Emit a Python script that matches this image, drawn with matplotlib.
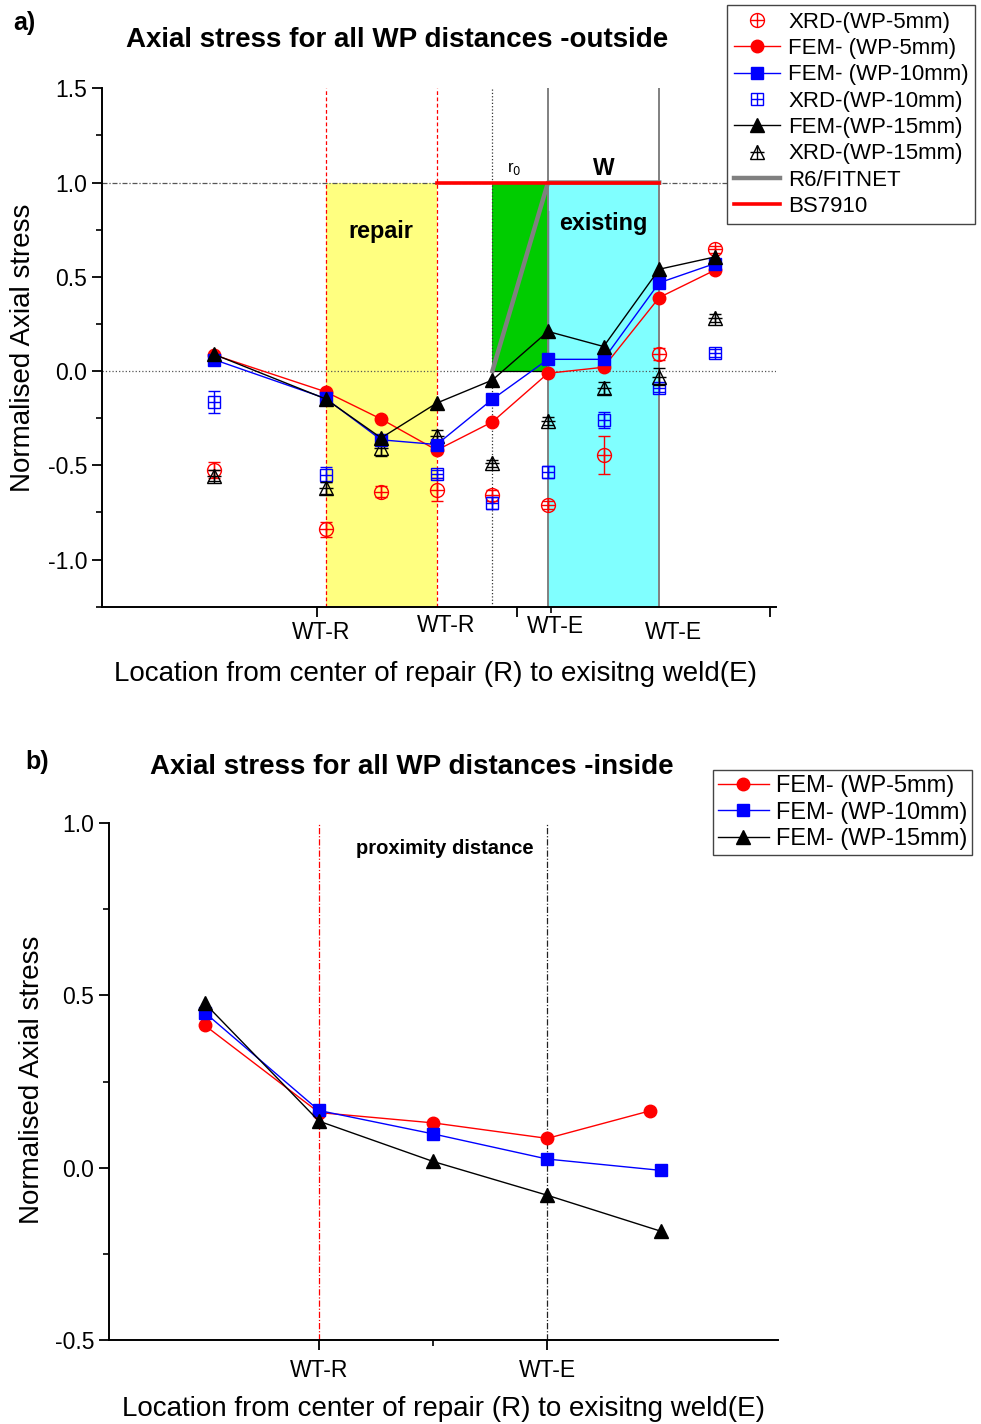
import matplotlib
matplotlib.use("Agg")
import matplotlib.pyplot as plt
from matplotlib.legend_handler import HandlerTuple
from matplotlib.ticker import MultipleLocator, FixedLocator, NullFormatter, FormatStrFormatter
import matplotlib.transforms as mtransforms

plt.rcParams["font.family"] = ["Liberation Sans", "DejaVu Sans"]

# ---- panel a) outside : positions along the pipe ----
fem_x = [2, 4, 5, 6, 7, 8, 9, 10, 11]
fem5_out = [0.085, -0.11, -0.255, -0.42, -0.27, -0.012, 0.02, 0.39, 0.535]
fem10_out = [0.06, -0.145, -0.365, -0.39, -0.15, 0.062, 0.062, 0.468, 0.57]
fem15_out = [0.088, -0.148, -0.355, -0.17, -0.048, 0.21, 0.13, 0.54, 0.605]

xrd5_x = [2, 4, 5, 6, 7, 8, 9, 10, 11]
xrd5 = [-0.525, -0.84, -0.64, -0.63, -0.66, -0.71, -0.445, 0.09, 0.645]
xrd5_err = [0.04, 0.04, 0.03, 0.06, 0.03, 0.02, 0.1, 0.03, 0.02]

xrd10_x = [2, 4, 6, 7, 8, 9, 10, 11]
xrd10 = [-0.165, -0.55, -0.545, -0.70, -0.535, -0.26, -0.09, 0.095]
xrd10_err = [0.06, 0.04, 0.02, 0.03, 0.03, 0.04, 0.02, 0.02]

xrd15_x = [2, 4, 5, 6, 7, 8, 9, 10, 11]
xrd15 = [-0.555, -0.62, -0.41, -0.345, -0.49, -0.265, -0.09, -0.03, 0.28]
xrd15_err = [0.03, 0.03, 0.04, 0.03, 0.02, 0.02, 0.03, 0.045, 0.02]

# R6/FITNET and BS7910 limit lines
r6_x = [7, 8, 10]
r6_y = [0.0, 1.0, 1.0]
bs_x = [6, 10]
bs_y = [1.0, 1.0]

# zones
repair_zone = (4, 6)
r0_zone = (7, 8)
existing_zone = (8, 10)

top_tick_labels = ["WT-R", "WT-R", "WT-E", "WT-E"]
top_label_x = [3.92, 6.17, 8.13, 10.25]

# ---- panel b) inside ----
in_x = [1, 2, 3, 4, 5]
in5_x = [1, 2, 3, 4, 4.9]
fem5_in = [0.413, 0.16, 0.13, 0.085, 0.165]
fem10_in = [0.45, 0.166, 0.098, 0.025, -0.008]
fem15_in = [0.477, 0.135, 0.018, -0.08, -0.185]

RED = "#ff0000"
BLUE = "#0000ff"
BLACK = "#000000"

fig = plt.figure(figsize=(9.81, 14.24), dpi=100)


def style_axes(ax):
    for s in ["top", "right"]:
        ax.spines[s].set_visible(False)
    for s in ["left", "bottom"]:
        ax.spines[s].set_linewidth(1.4)
    ax.tick_params(which="major", length=7, width=1.3, labelsize=16.5, direction="out")
    ax.tick_params(which="minor", length=4, width=1.2, direction="out")


# ======================= panel a =======================
ax = fig.add_axes([0.104, 0.574, 0.687, 0.364])
ax.set_xlim(-0.02, 12.1)
ax.set_ylim(-1.25, 1.5)
style_axes(ax)

ax.fill_between(repair_zone, -1.25, 1.0, color="#ffff80", zorder=0, lw=0)
ax.fill_between(existing_zone, -1.25, 1.0, color="#80ffff", zorder=0, lw=0)
ax.fill_between(r0_zone, 0.0, 1.0, color="#00cc00", zorder=0.5, lw=0)
ax.plot([r0_zone[0], r0_zone[1], r0_zone[1]], [0, 0, 0.85], color="k", lw=0.9, zorder=0.6)

ax.axhline(1.0, color="#555555", lw=0.9, ls=(0, (4, 1.5, 1, 1.5)), zorder=0.3)
ax.axhline(0.0, color="#555555", lw=0.9, ls=":", zorder=0.3)
for xv in repair_zone:
    ax.axvline(xv, color=RED, lw=0.9, ls=(0, (3, 2)), zorder=0.7)
ax.axvline(r0_zone[0], color="#333333", lw=0.9, ls=":", zorder=0.7)
for xv in existing_zone:
    ax.axvline(xv, color="#808080", lw=1.4, zorder=0.7)

r6_line, = ax.plot(r6_x, r6_y, color="#808080", lw=3.2, zorder=1)
bs_line, = ax.plot(bs_x, bs_y, color=RED, lw=2.6, zorder=1.1)

ax.text(5, 0.74, "repair", fontsize=16.8, fontweight="bold", ha="center", va="center")
ax.text(9, 0.78, "existing", fontsize=16.8, fontweight="bold", ha="center", va="center")
ax.text(9, 1.075, "W", fontsize=16.5, fontweight="bold", ha="center", va="center")
ax.text(7.4, 1.075, "r$_0$", fontsize=12, ha="center", va="center")


def xrd_series(ax, x, y, err, color, marker, ms):
    ax.errorbar(x, y, yerr=err, fmt="none", ecolor=color, elinewidth=1.0,
                capsize=4, capthick=1.0, zorder=2)
    a, = ax.plot(x, y, ls="none", marker=marker, ms=ms, mfc="none", mec=color, mew=1.0, zorder=2)
    b, = ax.plot(x, y, ls="none", marker="+", ms=ms, mec=color, mew=1.0, zorder=2)
    return (a, b)


h_xrd5 = xrd_series(ax, xrd5_x, xrd5, xrd5_err, RED, "o", 10)
h_xrd10 = xrd_series(ax, xrd10_x, xrd10, xrd10_err, BLUE, "s", 9)
h_xrd15 = xrd_series(ax, xrd15_x, xrd15, xrd15_err, BLACK, "^", 10)

h_f5, = ax.plot(fem_x, fem5_out, color=RED, lw=1.0, marker="o", ms=9, mec=RED, zorder=3)
h_f10, = ax.plot(fem_x, fem10_out, color=BLUE, lw=1.0, marker="s", ms=8.5, mec=BLUE, zorder=3)
h_f15, = ax.plot(fem_x, fem15_out, color=BLACK, lw=1.0, marker="^", ms=9.5, mec=BLACK, zorder=3)

ax.yaxis.set_major_locator(MultipleLocator(0.5))
ax.yaxis.set_minor_locator(MultipleLocator(0.25))
ax.yaxis.set_major_formatter(FormatStrFormatter("%.1f"))
ax.xaxis.set_major_locator(FixedLocator([3.85, 7.45, 12.0]))
ax.xaxis.set_minor_locator(FixedLocator([8.05]))
ax.xaxis.set_major_formatter(NullFormatter())

trans = mtransforms.blended_transform_factory(ax.transData, ax.transAxes)
offs = [-0.05, -0.037, -0.039, -0.05]
for xl, lab, o in zip(top_label_x, top_tick_labels, offs):
    ax.text(xl, o, lab, transform=trans, fontsize=16.5, ha="center", va="center")

leg = fig.legend([h_xrd5, h_f5, h_f10, h_xrd10, h_f15, h_xrd15, r6_line, bs_line],
                 ["XRD-(WP-5mm)", "FEM- (WP-5mm)", "FEM- (WP-10mm)", "XRD-(WP-10mm)",
                  "FEM-(WP-15mm)", "XRD-(WP-15mm)", "R6/FITNET", "BS7910"],
                 handler_map={tuple: HandlerTuple(ndivide=1, pad=0)},
                 loc="upper left", bbox_to_anchor=(0.741, 0.9965), fontsize=16,
                 frameon=True, fancybox=False, edgecolor="#444444", framealpha=1,
                 handlelength=2.1, handletextpad=0.35, labelspacing=0.24,
                 borderpad=0.3, borderaxespad=0)
leg.get_frame().set_linewidth(1.0)

fig.text(0.405, 0.972, "Axial stress for all WP distances -outside", fontsize=20,
         fontweight="bold", ha="center", va="center")
fig.text(0.013, 0.984, "a)", fontsize=18, fontweight="bold", ha="left", va="center")
fig.text(0.444, 0.527, "Location from center of repair (R) to exisitng weld(E)",
         fontsize=20, ha="center", va="center")
fig.text(0.023, 0.756, "Normalised Axial stress", fontsize=20, rotation=90,
         ha="center", va="center")

# ======================= panel b =======================
bx = fig.add_axes([0.111, 0.059, 0.682, 0.363])
bx.set_xlim(0.16, 6.02)
bx.set_ylim(-0.5, 1.0)
style_axes(bx)

bx.plot([2, 2], [-0.5, 1.0], color=RED, lw=0.9, ls=(0, (5, 1.5, 1, 1.5)), zorder=0.5)
bx.plot([4, 4], [-0.5, 1.0], color="#222222", lw=0.9, ls=(0, (5, 1.5, 1, 1.5)), zorder=0.5)
bx.text(3.1, 0.925, "proximity distance", fontsize=14.5, fontweight="bold",
        ha="center", va="center")

g5, = bx.plot(in5_x, fem5_in, color=RED, lw=1.0, marker="o", ms=9, mec=RED, zorder=3)
g10, = bx.plot(in_x, fem10_in, color=BLUE, lw=1.0, marker="s", ms=8.5, mec=BLUE, zorder=3)
g15, = bx.plot(in_x, fem15_in, color=BLACK, lw=1.0, marker="^", ms=9.5, mec=BLACK, zorder=3)

bx.yaxis.set_major_locator(MultipleLocator(0.5))
bx.yaxis.set_minor_locator(MultipleLocator(0.25))
bx.yaxis.set_major_formatter(FormatStrFormatter("%.1f"))
bx.set_xticks([2, 4])
bx.set_xticklabels(["WT-R", "WT-E"])
bx.xaxis.set_minor_locator(FixedLocator([3]))
bx.tick_params(axis="x", which="major", pad=7)

leg2 = fig.legend([g5, g10, g15],
                  ["FEM- (WP-5mm)", "FEM- (WP-10mm)", "FEM- (WP-15mm)"],
                  loc="upper left", bbox_to_anchor=(0.727, 0.459), fontsize=17,
                  frameon=True, fancybox=False, edgecolor="#444444", framealpha=1,
                  handlelength=2.15, handletextpad=0.3, labelspacing=0.19,
                  borderpad=0.2, borderaxespad=0)
leg2.get_frame().set_linewidth(1.0)

fig.text(0.42, 0.4614, "Axial stress for all WP distances -inside", fontsize=20,
         fontweight="bold", ha="center", va="center")
fig.text(0.026, 0.465, "b)", fontsize=18, fontweight="bold", ha="left", va="center")
fig.text(0.4516, 0.0105, "Location from center of repair (R) to exisitng weld(E)",
         fontsize=20, ha="center", va="center")
fig.text(0.0326, 0.2416, "Normalised Axial stress", fontsize=20, rotation=90,
         ha="center", va="center")

fig.savefig("out.png", dpi=100)
